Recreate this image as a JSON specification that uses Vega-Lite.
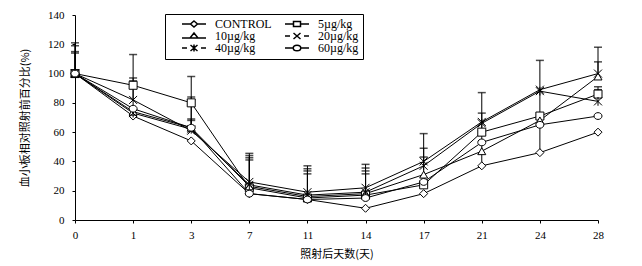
{
  "$schema": "https://vega.github.io/schema/vega-lite/v6.json",
  "width": 523,
  "height": 205,
  "autosize": "none",
  "padding": {"left": 75, "top": 15, "right": 44, "bottom": 46},
  "background": "white",
  "config": {
    "view": {"stroke": null},
    "font": "Liberation Serif",
    "axis": {
      "domainColor": "black",
      "tickColor": "black",
      "labelColor": "black",
      "titleColor": "black",
      "labelFont": "Liberation Serif",
      "labelFontSize": 11,
      "titleFont": "Noto Sans CJK SC",
      "titleFontSize": 11,
      "titleFontWeight": "normal",
      "grid": false,
      "tickSize": 3,
      "labelPadding": 4,
      "labelOverlap": false
    },
    "legend": {
      "labelFont": "Liberation Serif",
      "labelFontSize": 12,
      "labelColor": "black"
    }
  },
  "datasets": {
    "pts": [
      {"day": 0, "series": "CONTROL", "v": 100},
      {"day": 1, "series": "CONTROL", "v": 71},
      {"day": 3, "series": "CONTROL", "v": 54},
      {"day": 7, "series": "CONTROL", "v": 18},
      {"day": 11, "series": "CONTROL", "v": 14},
      {"day": 14, "series": "CONTROL", "v": 8},
      {"day": 17, "series": "CONTROL", "v": 18},
      {"day": 21, "series": "CONTROL", "v": 37},
      {"day": 24, "series": "CONTROL", "v": 46},
      {"day": 28, "series": "CONTROL", "v": 60},
      {"day": 0, "series": "5µg/kg", "v": 100},
      {"day": 1, "series": "5µg/kg", "v": 92},
      {"day": 3, "series": "5µg/kg", "v": 80},
      {"day": 7, "series": "5µg/kg", "v": 22},
      {"day": 11, "series": "5µg/kg", "v": 15},
      {"day": 14, "series": "5µg/kg", "v": 17},
      {"day": 17, "series": "5µg/kg", "v": 24},
      {"day": 21, "series": "5µg/kg", "v": 60},
      {"day": 24, "series": "5µg/kg", "v": 71},
      {"day": 28, "series": "5µg/kg", "v": 86},
      {"day": 0, "series": "10µg/kg", "v": 100},
      {"day": 1, "series": "10µg/kg", "v": 74},
      {"day": 3, "series": "10µg/kg", "v": 63},
      {"day": 7, "series": "10µg/kg", "v": 23},
      {"day": 11, "series": "10µg/kg", "v": 16},
      {"day": 14, "series": "10µg/kg", "v": 18},
      {"day": 17, "series": "10µg/kg", "v": 31},
      {"day": 21, "series": "10µg/kg", "v": 47},
      {"day": 24, "series": "10µg/kg", "v": 68},
      {"day": 28, "series": "10µg/kg", "v": 98},
      {"day": 0, "series": "20µg/kg", "v": 100},
      {"day": 1, "series": "20µg/kg", "v": 82},
      {"day": 3, "series": "20µg/kg", "v": 61},
      {"day": 7, "series": "20µg/kg", "v": 26},
      {"day": 11, "series": "20µg/kg", "v": 19},
      {"day": 14, "series": "20µg/kg", "v": 22},
      {"day": 17, "series": "20µg/kg", "v": 40},
      {"day": 21, "series": "20µg/kg", "v": 67},
      {"day": 24, "series": "20µg/kg", "v": 89},
      {"day": 28, "series": "20µg/kg", "v": 100},
      {"day": 0, "series": "40µg/kg", "v": 100},
      {"day": 1, "series": "40µg/kg", "v": 73},
      {"day": 3, "series": "40µg/kg", "v": 62},
      {"day": 7, "series": "40µg/kg", "v": 24},
      {"day": 11, "series": "40µg/kg", "v": 17},
      {"day": 14, "series": "40µg/kg", "v": 19},
      {"day": 17, "series": "40µg/kg", "v": 37},
      {"day": 21, "series": "40µg/kg", "v": 66},
      {"day": 24, "series": "40µg/kg", "v": 88},
      {"day": 28, "series": "40µg/kg", "v": 81},
      {"day": 0, "series": "60µg/kg", "v": 100},
      {"day": 1, "series": "60µg/kg", "v": 76},
      {"day": 3, "series": "60µg/kg", "v": 63},
      {"day": 7, "series": "60µg/kg", "v": 18},
      {"day": 11, "series": "60µg/kg", "v": 14},
      {"day": 14, "series": "60µg/kg", "v": 15},
      {"day": 17, "series": "60µg/kg", "v": 26},
      {"day": 21, "series": "60µg/kg", "v": 53},
      {"day": 24, "series": "60µg/kg", "v": 65},
      {"day": 28, "series": "60µg/kg", "v": 71}
    ],
    "err": [
      {"day": 0, "v": 100, "hi": 121},
      {"day": 0, "v": 100, "hi": 119},
      {"day": 0, "v": 100, "hi": 115},
      {"day": 0, "v": 100, "hi": 114},
      {"day": 1, "v": 92, "hi": 113},
      {"day": 1, "v": 82, "hi": 97},
      {"day": 1, "v": 74, "hi": 95},
      {"day": 3, "v": 80, "hi": 98},
      {"day": 3, "v": 61, "hi": 84},
      {"day": 3, "v": 63, "hi": 82},
      {"day": 3, "v": 62, "hi": 69},
      {"day": 3, "v": 63, "hi": 68},
      {"day": 7, "v": 22, "hi": 45.5},
      {"day": 7, "v": 26, "hi": 44},
      {"day": 7, "v": 23, "hi": 42.5},
      {"day": 7, "v": 24, "hi": 41},
      {"day": 11, "v": 15, "hi": 37},
      {"day": 11, "v": 19, "hi": 35},
      {"day": 11, "v": 16, "hi": 33.5},
      {"day": 11, "v": 17, "hi": 31.5},
      {"day": 14, "v": 17, "hi": 38},
      {"day": 14, "v": 22, "hi": 35.5},
      {"day": 14, "v": 18, "hi": 33.5},
      {"day": 14, "v": 19, "hi": 31.5},
      {"day": 17, "v": 40, "hi": 59},
      {"day": 17, "v": 37, "hi": 49},
      {"day": 17, "v": 31, "hi": 43},
      {"day": 21, "v": 37, "hi": 87},
      {"day": 21, "v": 67, "hi": 73},
      {"day": 24, "v": 46, "hi": 109},
      {"day": 28, "v": 100, "hi": 118},
      {"day": 28, "v": 100, "hi": 108},
      {"day": 28, "v": 86, "hi": 91},
      {"day": 28, "v": 86, "hi": 89}
    ]
  },
  "encoding": {
    "x": {
      "field": "day",
      "type": "ordinal",
      "scale": {"type": "point", "padding": 0},
      "axis": {"title": "照射后天数(天)", "labelAngle": 0, "titlePadding": 8, "labelPadding": 6}
    }
  },
  "resolve": {"scale": {"shape": "independent"}},
  "layer": [
    {
      "data": {"name": "err"},
      "mark": {"type": "rule", "color": "black", "strokeWidth": 1},
      "encoding": {
        "y": {
          "field": "v",
          "type": "quantitative",
          "scale": {"domain": [0, 140]},
          "axis": {"title": "血小板相对照射前百分比(%)", "tickCount": 7, "titlePadding": 17, "labelPadding": 8, "labelOverlap": false}
        },
        "y2": {"field": "hi"}
      }
    },
    {
      "data": {"name": "err"},
      "mark": {"type": "tick", "color": "black", "orient": "horizontal", "thickness": 1.5, "size": 8},
      "encoding": {
        "y": {"field": "hi", "type": "quantitative"}
      }
    },
    {
      "data": {"name": "pts"},
      "mark": {"type": "line", "color": "black", "strokeWidth": 1},
      "encoding": {
        "y": {"field": "v", "type": "quantitative"},
        "detail": {"field": "series"}
      }
    },
    {
      "data": {"name": "pts"},
      "mark": {"type": "point", "filled": true, "color": "white", "stroke": "black", "strokeWidth": 1, "opacity": 1, "size": 64},
      "encoding": {
        "y": {"field": "v", "type": "quantitative"},
        "shape": {
          "field": "series",
          "type": "nominal",
          "scale": {
            "domain": ["CONTROL", "5µg/kg", "10µg/kg", "20µg/kg", "40µg/kg", "60µg/kg"],
            "range": [
              "diamond",
              "square",
              "triangle-up",
              "M-1,-1L1,1M-1,1L1,-1",
              "M-1,-1L1,1M-1,1L1,-1M0,-1.1L0,1.1",
              "M-1,0A1,0.85 0 1,0 1,0A1,0.85 0 1,0 -1,0Z"
            ]
          },
          "legend": null
        }
      }
    },
    {
      "data": {"name": "pts"},
      "mark": {"type": "point", "filled": true, "color": "white", "stroke": "black", "strokeWidth": 1, "opacity": 0, "size": 1},
      "encoding": {
        "y": {"field": "v", "type": "quantitative"},
        "shape": {
          "field": "series",
          "type": "nominal",
          "scale": {
            "domain": ["CONTROL", "5µg/kg", "10µg/kg", "20µg/kg", "40µg/kg", "60µg/kg"],
            "range": [
              "M1.4,0L3,0M4.6,0L6.2,0M3.8,-0.6L4.5,0L3.8,0.6L3.1,0Z",
              "M1.4,0L3.1,0M4.5,0L6.2,0M3.1,-0.5L4.5,-0.5L4.5,0.5L3.1,0.5Z",
              "M1.4,0.4L3,0.4M4.6,0.4L6.2,0.4M3.8,-0.6L4.6,0.4L3,0.4Z",
              "M1.4,0L2.4,0M5.2,0L6.2,0M3.1,-0.6L4.5,0.6M3.1,0.6L4.5,-0.6",
              "M1.4,0L2.4,0M5.2,0L6.2,0M3.1,-0.6L4.5,0.6M3.1,0.6L4.5,-0.6M3.8,-0.7L3.8,0.7",
              "M1.4,0L3.05,0M4.55,0L6.2,0M3.05,0A0.75,0.55 0 1,0 4.55,0A0.75,0.55 0 1,0 3.05,0Z"
            ]
          },
          "legend": {
            "title": null,
            "orient": "none",
            "legendX": 90,
            "legendY": -1,
            "columns": 2,
            "direction": "horizontal",
            "strokeColor": "black",
            "fillColor": "white",
            "padding": 4,
            "rowPadding": -3,
            "columnPadding": -10,
            "symbolSize": 100,
            "labelOffset": 34,
            "encode": {
              "symbols": {
                "size": {"value": 100},
                "strokeWidth": {"value": 1},
                "stroke": {"value": "black"},
                "fill": {"value": "white"},
                "opacity": {"value": 1},
                "strokeOpacity": {"value": 1},
                "fillOpacity": {"value": 1}
              }
            }
          }
        }
      }
    }
  ]
}
